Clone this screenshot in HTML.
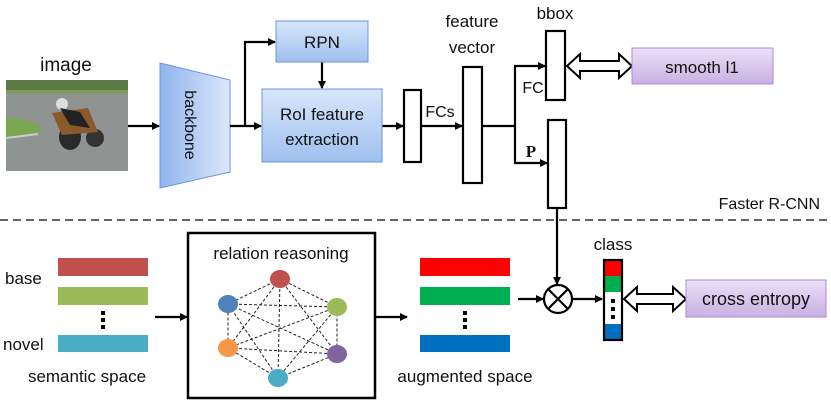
<!DOCTYPE html>
<html><head><style>body{margin:0;background:#fff}svg{display:block}text{font-family:"Liberation Sans",sans-serif;fill:#111}</style></head>
<body>
<svg width="831" height="407" viewBox="0 0 831 407" xmlns="http://www.w3.org/2000/svg">
<defs>
<marker id="a" markerWidth="8" markerHeight="8" refX="7" refY="4" orient="auto" markerUnits="userSpaceOnUse"><path d="M0,0 L8,4 L0,8 z" fill="#000"/></marker>
<linearGradient id="bl" x1="0" y1="0" x2="1" y2="0"><stop offset="0" stop-color="#8fb4ec"/><stop offset="1" stop-color="#dce8fb"/></linearGradient>
<linearGradient id="bv" x1="0" y1="0" x2="0" y2="1"><stop offset="0" stop-color="#d8e6fa"/><stop offset="1" stop-color="#9fc0ef"/></linearGradient>
<linearGradient id="pu" x1="0" y1="0" x2="0" y2="1"><stop offset="0" stop-color="#ece0f7"/><stop offset="1" stop-color="#c7b0e2"/></linearGradient>
</defs>
<!-- image -->
<text x="66" y="71" font-size="19" text-anchor="middle">image</text>
<rect x="6" y="80" width="122" height="91" fill="#8f9391"/>
<rect x="6" y="80" width="122" height="10" fill="#5c7a45"/>
<rect x="6" y="90" width="122" height="4" fill="#7d9a60"/>
<path d="M6,118 Q30,118 42,128 L38,134 L6,138z" fill="#7aa852"/>
<path d="M6,138 L38,134" stroke="#ccc" stroke-width="2"/>
<ellipse cx="70" cy="137" rx="11" ry="13" fill="#2a2a2a"/>
<ellipse cx="95" cy="138" rx="9" ry="9" fill="#333"/>
<path d="M52,113 L88,108 L98,132 L62,135z" fill="#8a5a2a"/>
<circle cx="62" cy="104" r="6" fill="#ddd"/>
<path d="M60,108 L80,112 L90,128 L70,125z" fill="#222"/>
<!-- backbone -->
<polygon points="160,63 230,80 230,172 160,188" fill="url(#bl)" stroke="#6e95d8" stroke-width="1"/>
<text x="190" y="125" font-size="16" text-anchor="middle" transform="rotate(90 190 125)" dy="5">backbone</text>
<g stroke="#000" stroke-width="2.2" fill="none">
<line x1="128" y1="126" x2="159" y2="126" marker-end="url(#a)"/>
<line x1="230" y1="126" x2="261" y2="126" marker-end="url(#a)"/>
<polyline points="245,126 245,42 275,42" marker-end="url(#a)"/>
<line x1="322" y1="62" x2="322" y2="88" marker-end="url(#a)"/>
<line x1="382" y1="126" x2="403" y2="126" marker-end="url(#a)"/>
<line x1="421" y1="126" x2="462" y2="126" marker-end="url(#a)"/>
<line x1="482" y1="126" x2="515" y2="126"/>
<polyline points="515,126 515,66 545,66" marker-end="url(#a)"/>
<polyline points="515,126 515,163 547,163" marker-end="url(#a)"/>
<line x1="557" y1="208" x2="557" y2="284" marker-end="url(#a)"/>
<line x1="155" y1="317" x2="187" y2="317" marker-end="url(#a)"/>
<line x1="375" y1="317" x2="407" y2="317" marker-end="url(#a)"/>
<line x1="518" y1="299" x2="543" y2="299" marker-end="url(#a)"/>
<line x1="572" y1="299" x2="602" y2="299" marker-end="url(#a)"/>
</g>
<rect x="276" y="21" width="92" height="41" fill="url(#bv)" stroke="#6e95d8"/>
<text x="322" y="48" font-size="17" text-anchor="middle">RPN</text>
<rect x="262" y="89" width="120" height="73" fill="url(#bv)" stroke="#6e95d8"/>
<text x="322" y="120" font-size="17" text-anchor="middle">RoI feature</text>
<text x="322" y="145" font-size="17" text-anchor="middle">extraction</text>
<g fill="#fff" stroke="#000" stroke-width="2.2">
<rect x="404" y="90" width="17" height="72"/>
<rect x="463" y="67" width="19" height="116"/>
<rect x="546" y="31" width="19" height="69"/>
<rect x="548" y="120" width="18" height="88"/>
</g>
<text x="440" y="117" font-size="16" text-anchor="middle">FCs</text>
<text x="472" y="27" font-size="17" text-anchor="middle">feature</text>
<text x="472" y="53" font-size="17" text-anchor="middle">vector</text>
<text x="555" y="19" font-size="17" text-anchor="middle">bbox</text>
<text x="533" y="93" font-size="16" text-anchor="middle">FC</text>
<text x="531" y="157" font-size="17" font-weight="bold" text-anchor="middle" style="font-family:'Liberation Serif',serif">P</text>
<path d="M567,66 L580,54 L580,61 L619,61 L619,54 L632,66 L619,78 L619,71 L580,71 L580,78 z" fill="#fff" stroke="#000" stroke-width="2"/>
<rect x="632" y="48" width="141" height="36" fill="url(#pu)" stroke="#a88cd0"/>
<text x="702" y="73" font-size="17" text-anchor="middle">smooth l1</text>
<line x1="0" y1="220" x2="831" y2="220" stroke="#333" stroke-width="1.5" stroke-dasharray="8,5"/>
<text x="820" y="209" font-size="16" text-anchor="end">Faster R-CNN</text>
<!-- semantic -->
<rect x="58" y="258" width="90" height="18" fill="#c0504d"/>
<rect x="58" y="287" width="90" height="18" fill="#9bbb59"/>
<rect x="58" y="335" width="90" height="17" fill="#4bacc6"/>
<g fill="#000"><rect x="101" y="311" width="4" height="4"/><rect x="101" y="318" width="4" height="4"/><rect x="101" y="325" width="4" height="4"/></g>
<text x="5" y="284" font-size="17">base</text>
<text x="3" y="350" font-size="17">novel</text>
<text x="87" y="382" font-size="17" text-anchor="middle">semantic space</text>
<!-- relation -->
<rect x="188" y="233" width="187" height="165" fill="#fff" stroke="#000" stroke-width="2.5"/>
<text x="281" y="259" font-size="17" text-anchor="middle">relation reasoning</text>
<g stroke="#222" stroke-width="1" stroke-dasharray="3,2" fill="none">
<path d="M280,279 L337,307 L337,354 L278,378 L228,348 L228,304 Z M280,279 L337,354 M280,279 L278,378 M280,279 L228,348 M337,307 L278,378 M337,307 L228,348 M337,307 L228,304 M337,354 L228,348 M337,354 L228,304 M278,378 L228,304"/>
</g>
<ellipse cx="280" cy="279" rx="10" ry="9" fill="#c0504d"/>
<ellipse cx="337" cy="307" rx="10" ry="9" fill="#9bbb59"/>
<ellipse cx="337" cy="354" rx="10" ry="9" fill="#8064a2"/>
<ellipse cx="278" cy="378" rx="10" ry="9" fill="#4bacc6"/>
<ellipse cx="228" cy="348" rx="10" ry="9" fill="#f79646"/>
<ellipse cx="228" cy="304" rx="10" ry="9" fill="#4f81bd"/>
<!-- augmented -->
<rect x="420" y="258" width="90" height="18" fill="#ff0000"/>
<rect x="420" y="287" width="90" height="18" fill="#00b050"/>
<rect x="420" y="335" width="90" height="17" fill="#0070c0"/>
<g fill="#000"><rect x="463" y="311" width="4" height="4"/><rect x="463" y="318" width="4" height="4"/><rect x="463" y="325" width="4" height="4"/></g>
<text x="465" y="382" font-size="17" text-anchor="middle">augmented space</text>
<circle cx="558" cy="299" r="14" fill="#fff" stroke="#000" stroke-width="2.2"/>
<path d="M548,289 L568,309 M568,289 L548,309" stroke="#000" stroke-width="2.2"/>
<text x="613" y="250" font-size="17" text-anchor="middle">class</text>
<rect x="604" y="260" width="18" height="80" fill="#fff"/>
<rect x="604" y="260" width="18" height="16" fill="#ff0000"/>
<rect x="604" y="276" width="18" height="16" fill="#00b050"/>
<rect x="604" y="324" width="18" height="16" fill="#0070c0"/>
<g fill="#000"><rect x="611" y="299" width="4" height="4"/><rect x="611" y="307" width="4" height="4"/><rect x="611" y="315" width="4" height="4"/></g>
<rect x="604" y="260" width="18" height="80" fill="none" stroke="#000" stroke-width="2.2"/>
<path d="M624,299 L637,287 L637,294 L673,294 L673,287 L686,299 L673,311 L673,304 L637,304 L637,311 z" fill="#fff" stroke="#000" stroke-width="2"/>
<rect x="686" y="280" width="140" height="37" fill="url(#pu)" stroke="#a88cd0"/>
<text x="756" y="305" font-size="18" text-anchor="middle">cross entropy</text>
</svg>
</body></html>
